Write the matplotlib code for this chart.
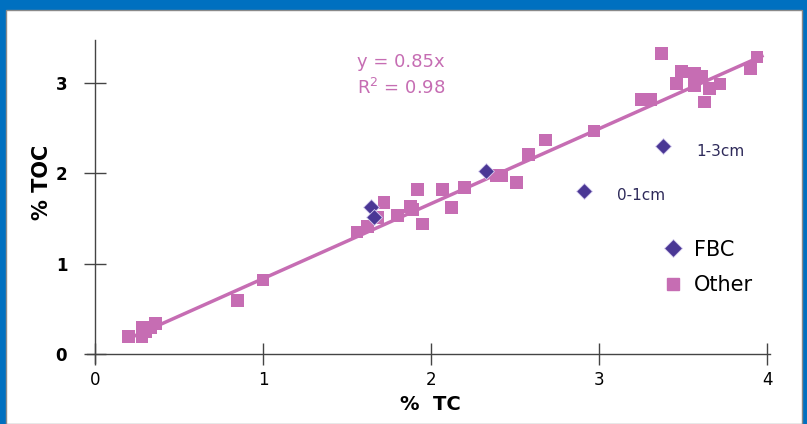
import matplotlib.pyplot as plt
from matplotlib.patches import Rectangle
from matplotlib.lines import Line2D

# "Other" samples (% TC, % TOC)
other_tc = [0.20, 0.28, 0.28, 0.33, 0.36, 0.30, 0.85, 1.00,
            1.56, 1.62, 1.68, 1.72, 1.80, 1.88, 1.89, 1.92, 1.95,
            2.07, 2.12, 2.20, 2.39, 2.42, 2.51, 2.58, 2.68, 2.97,
            3.25, 3.31, 3.37, 3.46, 3.49, 3.57, 3.57, 3.61, 3.63,
            3.66, 3.72, 3.90, 3.94]
other_toc = [0.19, 0.19, 0.29, 0.29, 0.34, 0.25, 0.59, 0.82,
             1.35, 1.41, 1.51, 1.68, 1.53, 1.63, 1.60, 1.82, 1.44,
             1.82, 1.62, 1.84, 1.98, 1.98, 1.90, 2.21, 2.37, 2.47,
             2.82, 2.82, 3.33, 3.00, 3.13, 3.11, 2.97, 3.07, 2.79,
             2.94, 2.99, 3.16, 3.29]

# FBC samples
fbc_tc = [1.64, 1.66, 2.33, 2.91, 3.38]
fbc_toc = [1.63, 1.52, 2.03, 1.81, 2.30]

# fitted line end points
fit_tc = [0.20, 3.97]
fit_toc = [0.17, 3.30]

pink = '#c66db3'
purple = '#4a3795'
plt.rcParams['font.family'] = ['DejaVu Sans']

fig = plt.figure(figsize=(8.07, 4.24), dpi=100)
fig.patch.set_facecolor('#0070c0')
fig.patches.append(Rectangle((6 / 807, 0), 796 / 807, 414 / 424,
                             transform=fig.transFigure, facecolor='white',
                             edgecolor='#8a8a8a', linewidth=1.0, zorder=-10))

ax = fig.add_axes([0.1073, 0.1439, 0.8473, 0.7623])
ax.set_facecolor('none')

ax.plot(fit_tc, fit_toc, color=pink, lw=2.5, zorder=2)
ax.scatter(other_tc, other_toc, marker='s', s=85, color=pink, edgecolors='none', zorder=3)
ax.scatter(fbc_tc, fbc_toc, marker='D', s=65, color=purple, edgecolors='#d8d0f0',
           linewidths=0.6, zorder=4)

ax.set_xlim(-0.05, 4.02)
ax.set_ylim(-0.1, 3.48)
for s in ['top', 'right']:
    ax.spines[s].set_visible(False)
for s in ['left', 'bottom']:
    ax.spines[s].set_position(('data', 0))
    ax.spines[s].set_color('#444444')
    ax.spines[s].set_linewidth(1.0)

ax.set_xticks([0, 1, 2, 3, 4])
ax.set_yticks([0, 1, 2, 3])
ax.tick_params(axis='both', direction='inout', length=16, width=1, color='#444444')
ax.tick_params(axis='x', pad=4, labelsize=12)
ax.tick_params(axis='y', pad=12, labelsize=12)
for t in ax.get_yticklabels():
    t.set_fontweight('bold')

fig.text(430 / 807, 1 - 404 / 424, '%  TC', ha='center', va='center',
         fontsize=14, fontweight='bold')
fig.text(42 / 807, 1 - 182 / 424, '% TOC', ha='center', va='center',
         fontsize=15, fontweight='bold', rotation=90)

ax.text(1.56, 3.23, 'y = 0.85x', color=pink, fontsize=13, ha='left', va='center')
ax.text(1.56, 2.95, 'R$^2$ = 0.98', color=pink, fontsize=13, ha='left', va='center')

ax.text(3.58, 2.24, '1-3cm', color='#2e2a5a', fontsize=11, va='center')
ax.text(3.11, 1.76, '0-1cm', color='#2e2a5a', fontsize=11, va='center')

handles = [Line2D([], [], marker='D', ls='none', color=purple, markersize=9,
                  markeredgecolor='#d8d0f0', markeredgewidth=0.6),
           Line2D([], [], marker='s', ls='none', color=pink, markersize=9)]
ax.legend(handles, ['FBC', 'Other'], loc='upper left', bbox_to_anchor=(0.815, 0.44),
          frameon=False, fontsize=15, handlelength=1.0, handletextpad=0.5,
          labelspacing=0.75)

fig.savefig('out.png', dpi=100)
